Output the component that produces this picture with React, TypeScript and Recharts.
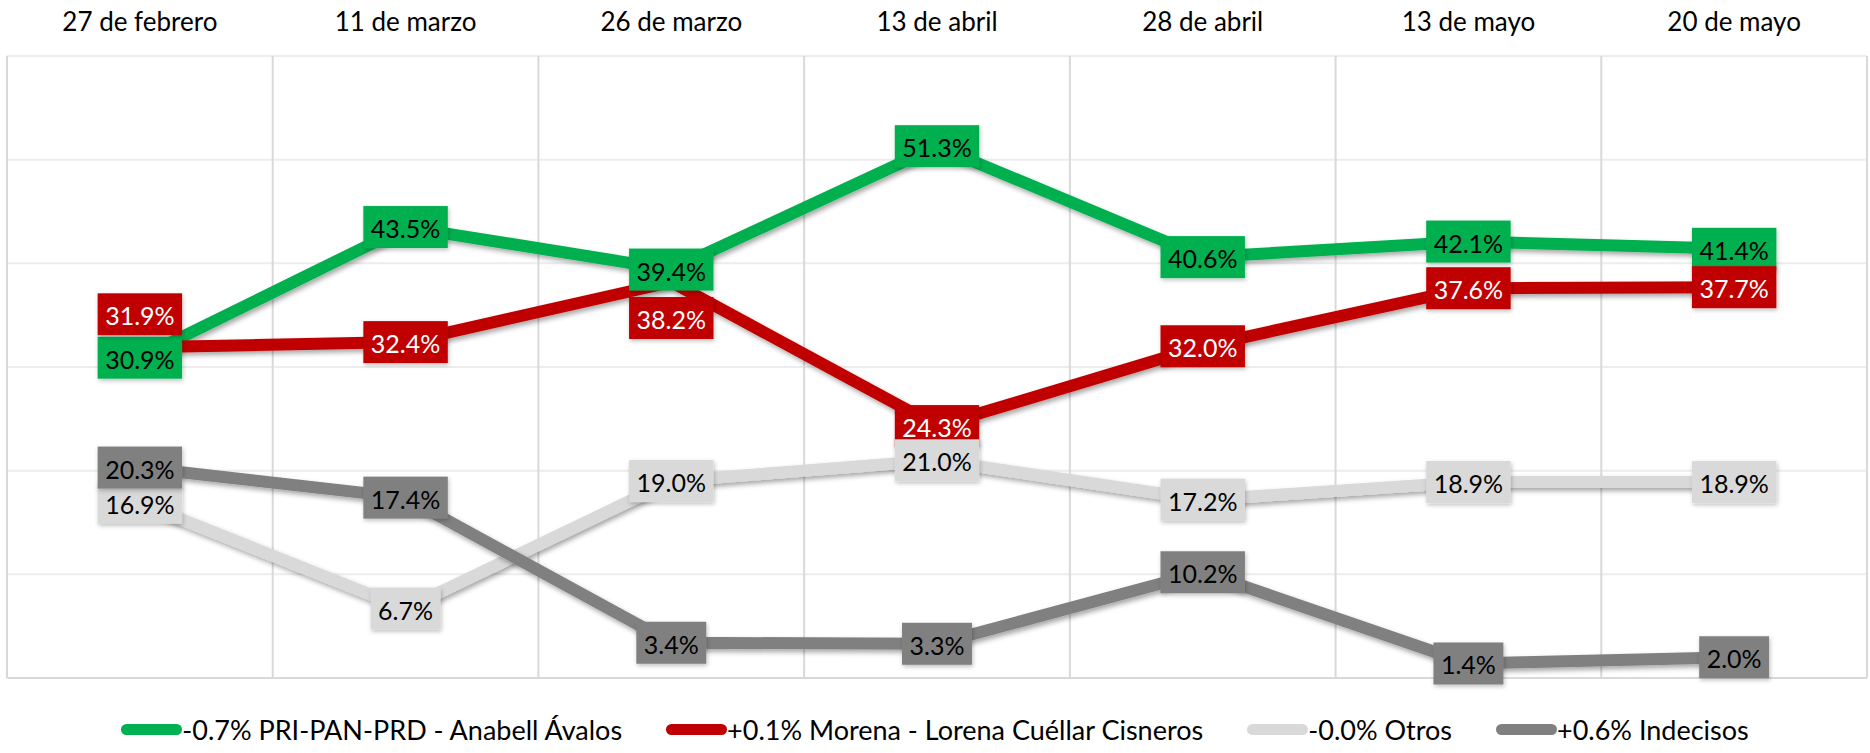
import React from "react";
import { LineChart, Line, XAxis, YAxis, CartesianGrid, LabelList, ReferenceLine } from "recharts";

document.body.style.margin = "0";

const dates = ["27 de febrero", "11 de marzo", "26 de marzo", "13 de abril", "28 de abril", "13 de mayo", "20 de mayo"];
const priPanPrd = [30.9, 43.5, 39.4, 51.3, 40.6, 42.1, 41.4];
const morena = [31.9, 32.4, 38.2, 24.3, 32.0, 37.6, 37.7];
const otros = [16.9, 6.7, 19.0, 21.0, 17.2, 18.9, 18.9];
const indecisos = [20.3, 17.4, 3.4, 3.3, 10.2, 1.4, 2.0];
const yTicks = [0, 10, 20, 30, 40, 50, 60];

const series = [
  { key: "pri", name: "-0.7% PRI-PAN-PRD - Anabell Ávalos", color: "#00B050", text: "#000000" },
  { key: "morena", name: "+0.1% Morena - Lorena Cuéllar Cisneros", color: "#C00000", text: "#FFFFFF" },
  { key: "otros", name: "-0.0% Otros", color: "#D9D9D9", text: "#000000" },
  { key: "indecisos", name: "+0.6% Indecisos", color: "#808080", text: "#000000" },
];

const chartData = dates.map((date, i) => ({
  date,
  pri: priPanPrd[i],
  morena: morena[i],
  otros: otros[i],
  indecisos: indecisos[i],
}));

// labels that were nudged off the point to avoid overlaps (px)
const labelShift: Record<string, Record<number, number>> = {
  morena: { 0: -33, 2: 36 },
};

const FONT = "Lato, 'DejaVu Sans', sans-serif";
const ctx = document.createElement("canvas").getContext("2d");
function textWidth(s: string, size: number) {
  if (!ctx) return s.length * size * 0.55;
  ctx.font = `${size}px Lato`;
  return ctx.measureText(s).width;
}

const makeLabel = (s: typeof series[number]) => (props: any) => {
  const { x, y, value, index } = props;
  if (value == null) return null;
  const txt = Number(value).toFixed(1) + "%";
  const w = textWidth(txt, 25) + 15;
  const h = 42;
  const cy = y + (labelShift[s.key]?.[index] ?? 0);
  return (
    <g>
      <rect x={x - w / 2} y={cy - h / 2} width={w} height={h} fill={s.color} filter="url(#boxShadow)" />
      <text x={x} y={cy + 1} textAnchor="middle" dominantBaseline="central" fontFamily={FONT} fontSize={25} fill={s.text}>
        {txt}
      </text>
    </g>
  );
};

const DateTick = (props: any) => {
  const { x, payload } = props;
  return (
    <text x={x} y={31} textAnchor="middle" fontFamily={FONT} fontSize={26} fill="#000">
      {payload.value}
    </text>
  );
};

export default function App() {
  return (
    <div style={{ position: "relative", width: 1870, height: 753, background: "#fff" }}>
      <LineChart width={1870} height={753} data={chartData} margin={{ top: 0, right: 3, left: 7, bottom: 75 }}>
        <defs>
          <filter id="lineShadow" x="-10%" y="-10%" width="120%" height="130%">
            <feDropShadow dx="2" dy="3" stdDeviation="2.5" floodColor="#000" floodOpacity="0.35" />
          </filter>
          <filter id="boxShadow" x="-20%" y="-20%" width="140%" height="160%">
            <feDropShadow dx="1" dy="2" stdDeviation="2" floodColor="#000" floodOpacity="0.25" />
          </filter>
        </defs>
        <CartesianGrid vertical={false} stroke="#EDEDED" strokeWidth={2} />
        <CartesianGrid
          horizontal={false}
          stroke="#D9D9D9"
          strokeWidth={2}
          verticalCoordinatesGenerator={(p: any) =>
            Array.from({ length: dates.length + 1 }, (_, i) => p.offset.left + (i * p.offset.width) / dates.length)
          }
        />
        <ReferenceLine y={0} stroke="#D9D9D9" strokeWidth={2} />
        <XAxis
          dataKey="date"
          orientation="top"
          scale="band"
          height={56}
          tickLine={false}
          axisLine={false}
          tick={<DateTick />}
          interval={0}
        />
        <YAxis hide domain={[0, 60]} ticks={yTicks} />
        {series.map((s) => (
          <Line
            key={s.key}
            dataKey={s.key}
            stroke={s.color}
            strokeWidth={12}
            strokeLinejoin="round"
            dot={false}
            activeDot={false}
            isAnimationActive={false}
            filter="url(#lineShadow)"
          />
        ))}
        {series.map((s) => (
          <Line
            key={s.key + "-lbl"}
            dataKey={s.key}
            stroke="none"
            dot={false}
            activeDot={false}
            legendType="none"
            isAnimationActive={false}
          >
            <LabelList dataKey={s.key} content={makeLabel(s)} />
          </Line>
        ))}
      </LineChart>
      <div
        style={{
          position: "absolute",
          top: 713,
          left: 0,
          width: 1870,
          display: "flex",
          justifyContent: "center",
          alignItems: "center",
          gap: 44,
          fontFamily: FONT,
          fontSize: 27,
          color: "#000",
        }}
      >
        {series.map((s) => (
          <div key={s.key} style={{ display: "flex", alignItems: "center" }}>
            <span style={{ display: "inline-block", width: 61, height: 11, borderRadius: 6, background: s.color }} />
            <span>{s.name}</span>
          </div>
        ))}
      </div>
    </div>
  );
}
